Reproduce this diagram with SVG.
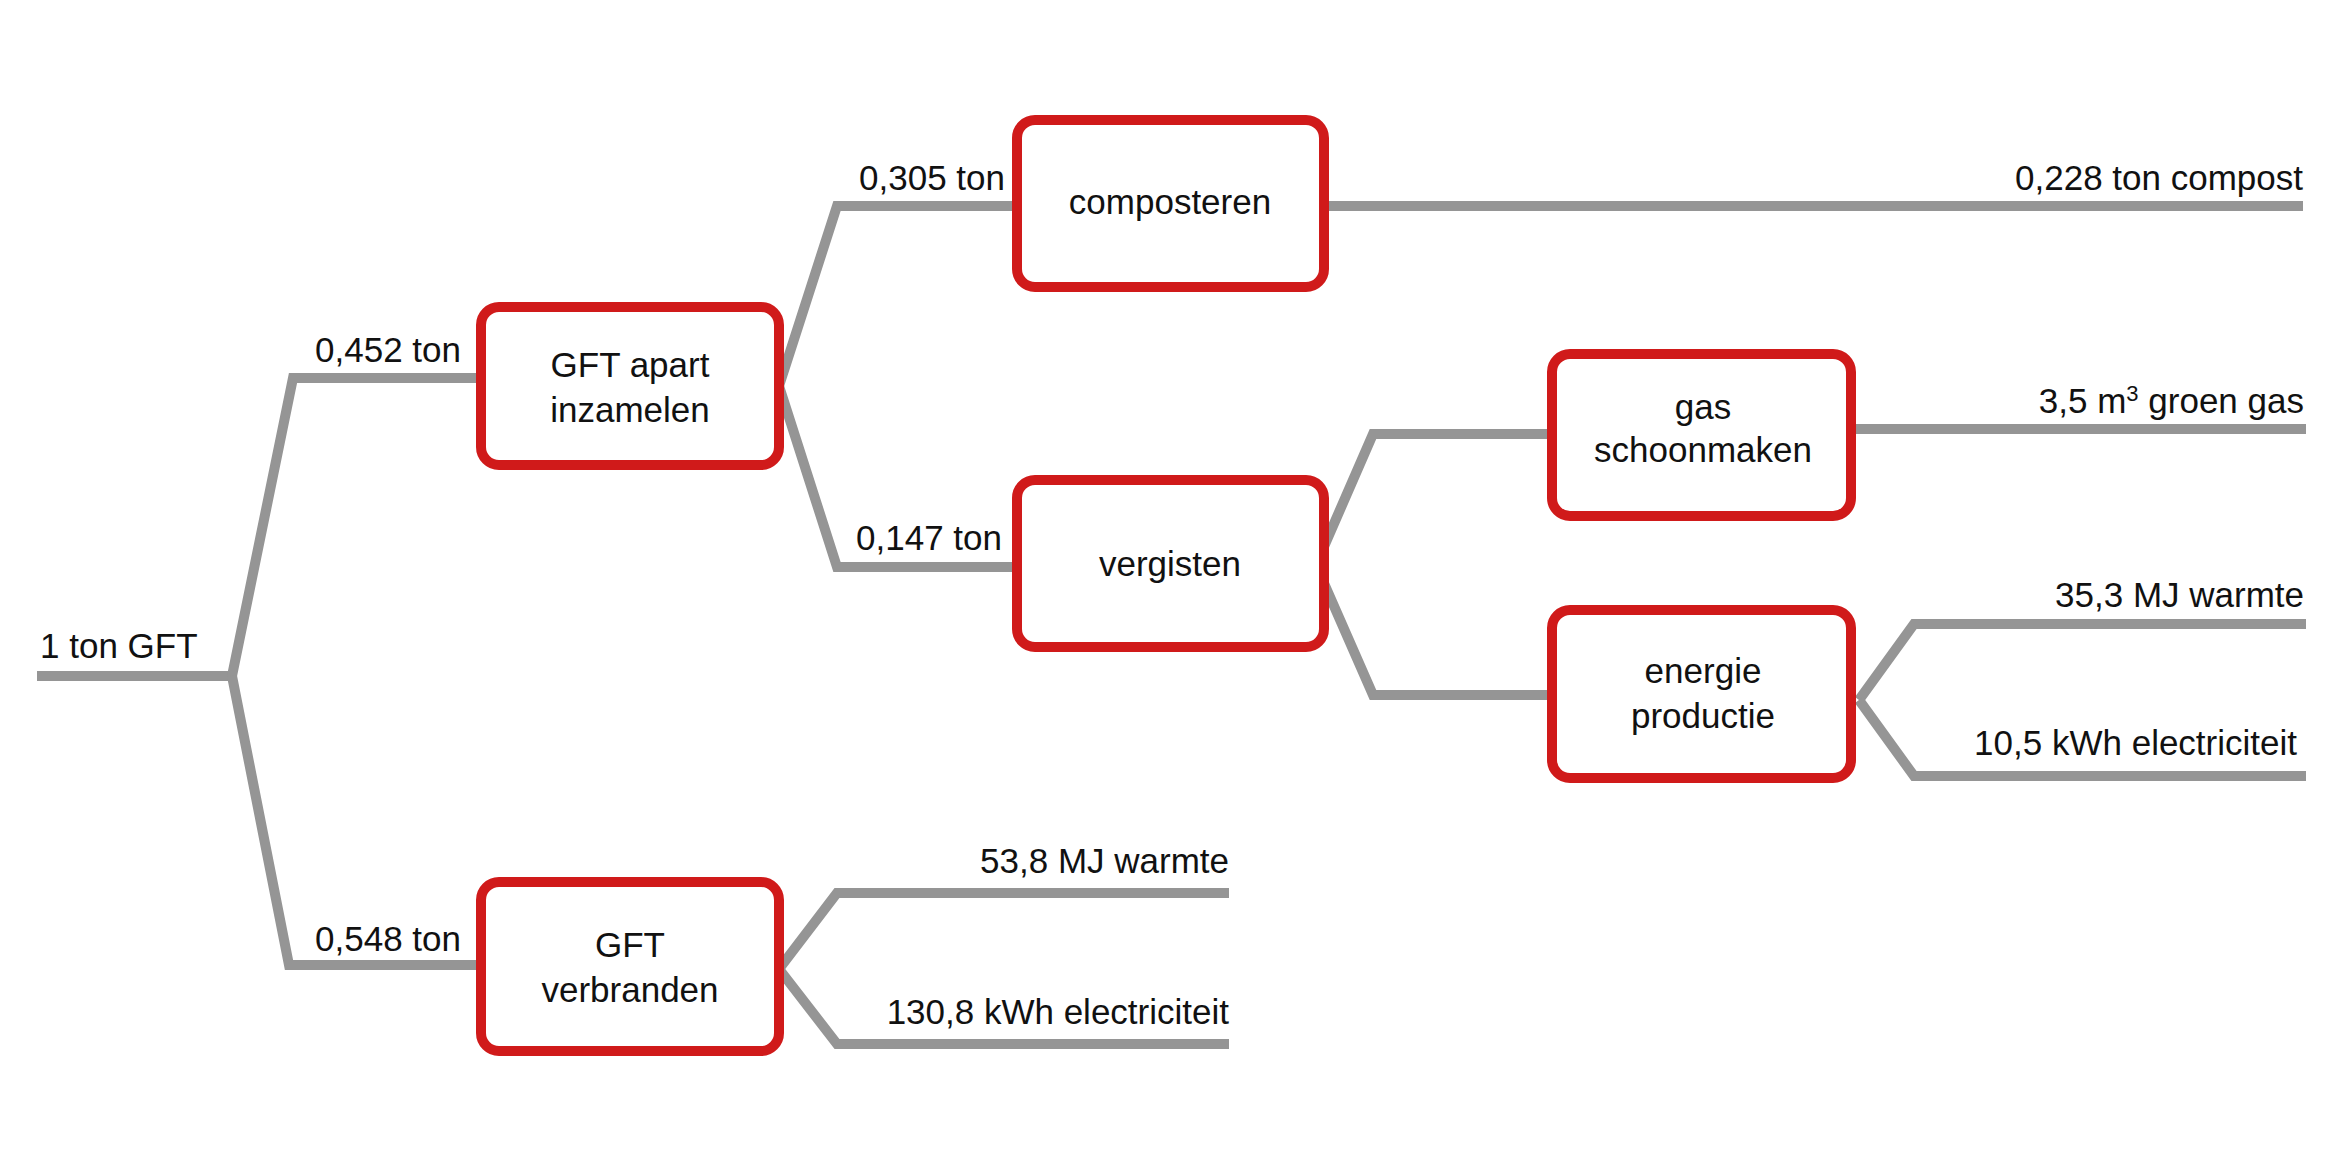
<svg xmlns="http://www.w3.org/2000/svg" width="2333" height="1167" viewBox="0 0 2333 1167">
<style>
.c{fill:none;stroke:#959595;stroke-width:10;stroke-linejoin:miter}
.b{fill:#fff;stroke:#d01a1a;stroke-width:10}
text{font-family:"Liberation Sans",Arial,sans-serif;font-size:35px;fill:#111}
.m{text-anchor:middle}.e{text-anchor:end}
</style>
<rect width="2333" height="1167" fill="#fff"/>
<g id="connectors">
<polyline class="c" points="37,676 232,676"/>
<polyline class="c" points="232,676 293,378 481,378"/>
<polyline class="c" points="232,676 289,965 481,965"/>
<polyline class="c" points="779,386 837,206 1017,206"/>
<polyline class="c" points="779,386 837,567 1017,567"/>
<polyline class="c" points="1324,206 2303,206"/>
<polyline class="c" points="1316,565 1373,434 1552,434"/>
<polyline class="c" points="1316,565 1373,695 1552,695"/>
<polyline class="c" points="1851,429 2306,429"/>
<polyline class="c" points="1859,700 1914,624 2306,624"/>
<polyline class="c" points="1859,700 1914,776 2306,776"/>
<polyline class="c" points="779,969 837,893 1229,893"/>
<polyline class="c" points="779,969 837,1044 1229,1044"/>
</g>
<g id="labels">
<text x="40" y="658">1 ton GFT</text>
<text class="e" x="461" y="362">0,452 ton</text>
<text class="e" x="461" y="951">0,548 ton</text>
<text class="e" x="1005" y="190">0,305 ton</text>
<text class="e" x="1002" y="550">0,147 ton</text>
<text class="e" x="2303" y="190">0,228 ton compost</text>
<text class="e" x="2304" y="413">3,5 m<tspan font-size="22" dy="-12">3</tspan><tspan dy="12"> groen gas</tspan></text>
<text class="e" x="2304" y="607">35,3 MJ warmte</text>
<text class="e" x="2297" y="755">10,5 kWh electriciteit</text>
<text class="e" x="1229" y="873">53,8 MJ warmte</text>
<text class="e" x="1229" y="1024">130,8 kWh electriciteit</text>
</g>
<g id="apart"><rect class="b" x="481" y="307" width="298" height="158" rx="18"/><text class="m" x="630" y="377">GFT apart</text><text class="m" x="630" y="422">inzamelen</text></g>
<g id="verbranden"><rect class="b" x="481" y="882" width="298" height="169" rx="18"/><text class="m" x="630" y="957">GFT</text><text class="m" x="630" y="1002">verbranden</text></g>
<g id="composteren"><rect class="b" x="1017" y="120" width="307" height="167" rx="18"/><text class="m" x="1170" y="214">composteren</text></g>
<g id="vergisten"><rect class="b" x="1017" y="480" width="307" height="167" rx="18"/><text class="m" x="1170" y="576">vergisten</text></g>
<g id="gas"><rect class="b" x="1552" y="354" width="299" height="162" rx="18"/><text class="m" x="1703" y="419">gas</text><text class="m" x="1703" y="462">schoonmaken</text></g>
<g id="energie"><rect class="b" x="1552" y="610" width="299" height="168" rx="18"/><text class="m" x="1703" y="683">energie</text><text class="m" x="1703" y="728">productie</text></g>
</svg>
